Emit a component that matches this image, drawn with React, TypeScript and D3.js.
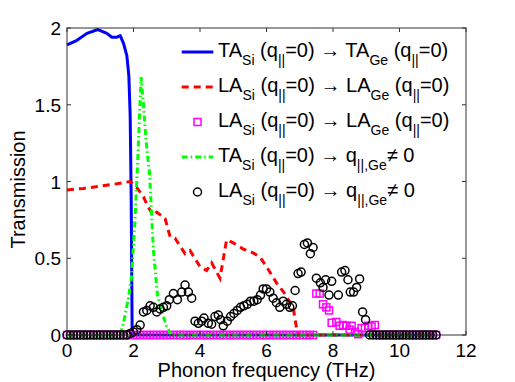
import React from "react";
import * as d3 from "d3";

const xTicks = [0, 2, 4, 6, 8, 10, 12];
const yTicks = [0, 0.5, 1, 1.5, 2];
const yTickLabels = ["0", "0.5", "1", "1.5", "2"];

// TA_Si -> TA_Ge (blue solid)
const taFreq = [0, 0.3, 0.6, 0.93, 1.2, 1.35, 1.5, 1.6, 1.7, 1.8, 1.86, 1.9, 1.93, 1.96, 11.1];
const taVal = [1.89, 1.92, 1.965, 1.99, 1.965, 1.94, 1.94, 1.95, 1.9, 1.82, 1.69, 1.43, 0.9, 0, 0];

// LA_Si -> LA_Ge (red dashed)
const laFreq = [0, 0.5, 1.0, 1.5, 1.9, 2.1, 2.3, 2.45, 2.6, 2.7, 2.95, 3.1, 3.25, 3.55, 3.7, 4.0, 4.2, 4.35, 4.6, 4.8, 5.0, 5.3, 5.55, 5.8, 6.0, 6.3, 6.55, 6.8, 6.9, 6.95, 11.1];
const laVal = [0.945, 0.955, 0.97, 0.985, 1.0, 0.96, 0.9, 0.83, 0.78, 0.8, 0.76, 0.64, 0.63, 0.53, 0.55, 0.445, 0.42, 0.47, 0.37, 0.62, 0.6, 0.56, 0.54, 0.51, 0.445, 0.34, 0.27, 0.18, 0.05, 0, 0];

// LA_Si -> LA_Ge (magenta squares)
const sqFreq = [
  0, 0.1, 0.2, 0.3, 0.4, 0.5, 0.6, 0.7, 0.8, 0.9, 1.0, 1.1, 1.2, 1.3, 1.4, 1.5, 1.6, 1.7, 1.8, 1.9,
  2.0, 2.1, 2.2, 2.3, 2.4, 2.5, 2.6, 2.7, 2.8, 2.9, 3.0, 3.1, 3.2, 3.3, 3.4, 3.5, 3.6, 3.7, 3.8, 3.9,
  4.0, 4.1, 4.2, 4.3, 4.4, 4.5, 4.6, 4.7, 4.8, 4.9, 5.0, 5.1, 5.2, 5.3, 5.4, 5.5, 5.6, 5.7, 5.8, 5.9,
  6.0, 6.1, 6.2, 6.3, 6.4, 6.5, 6.6, 6.7, 6.8, 6.9, 7.0, 7.1, 7.2, 7.3, 7.4,
  7.5, 7.6, 7.7, 7.8, 7.88, 7.96, 8.1, 8.2, 8.3, 8.4, 8.5, 8.56, 8.66, 8.76, 8.86, 8.96, 9.06, 9.16, 9.26,
  9.4, 9.5, 9.6, 9.7, 9.8, 9.9, 10.0, 10.1, 10.2, 10.3, 10.4, 10.5, 10.6, 10.7, 10.8, 10.9, 11.0, 11.1,
];
const sqVal = [
  0, 0, 0, 0, 0, 0, 0, 0, 0, 0, 0, 0, 0, 0, 0, 0, 0, 0, 0, 0,
  0, 0, 0, 0, 0, 0, 0, 0, 0, 0, 0, 0, 0, 0, 0, 0, 0, 0, 0, 0,
  0, 0, 0, 0, 0, 0, 0, 0, 0, 0, 0, 0, 0, 0, 0, 0, 0, 0, 0, 0,
  0, 0, 0, 0, 0, 0, 0, 0, 0, 0, 0, 0, 0, 0, 0,
  0.27, 0.27, 0.2, 0.18, 0.16, 0.08, 0.085, 0.06, 0.065, 0.06, 0.035, 0.06, 0.02, 0.005, 0.045, 0.045, 0.06, 0.055, 0.065,
  0, 0, 0, 0, 0, 0, 0, 0, 0, 0, 0, 0, 0, 0, 0, 0, 0, 0,
];

// TA_Si -> q != 0 (green dash-dot)
const tqFreq = [0, 1.6, 1.7, 1.84, 1.94, 2.05, 2.14, 2.18, 2.23, 2.3, 2.38, 2.48, 2.6, 2.72, 2.87, 3.0, 3.15, 11.1];
const tqVal = [0, 0, 0.08, 0.23, 0.38, 0.77, 1.2, 1.43, 1.68, 1.5, 1.26, 1.06, 0.55, 0.26, 0.14, 0.05, 0, 0];

// LA_Si -> q != 0 (black circles)
const ciFreq = [
  0, 0.1, 0.2, 0.3, 0.4, 0.5, 0.6, 0.7, 0.8, 0.9, 1.0, 1.1, 1.2, 1.3, 1.4, 1.5, 1.6, 1.7, 1.8,
  1.9, 2.0, 2.1, 2.2, 2.3, 2.4, 2.5, 2.6, 2.7, 2.8, 2.9, 3.0, 3.08, 3.2, 3.32, 3.45, 3.55, 3.65, 3.75,
  3.85, 3.95, 4.05, 4.12, 4.25, 4.35, 4.45, 4.55, 4.62, 4.7, 4.82, 4.92, 5.02, 5.12, 5.22, 5.32, 5.42,
  5.52, 5.62, 5.72, 5.82, 5.9, 6.0, 6.1, 6.2, 6.3, 6.4, 6.5, 6.6, 6.7, 6.78, 6.86, 6.95, 7.04, 7.14,
  7.23, 7.32, 7.4, 7.5, 7.62, 7.7, 7.78, 7.88, 7.96, 8.16, 8.26, 8.36, 8.45, 8.52, 8.62, 8.71, 8.8,
  8.89, 8.98,
  9.1, 9.2, 9.3, 9.4, 9.5, 9.6, 9.7, 9.8, 9.9, 10.0, 10.1, 10.2, 10.3, 10.4, 10.5, 10.6, 10.7, 10.8, 10.9, 11.0, 11.1,
];
const ciVal = [
  0, 0, 0, 0, 0, 0, 0, 0, 0, 0, 0, 0, 0, 0, 0, 0, 0, 0, 0,
  0.01, 0.02, 0.035, 0.065, 0.15, 0.16, 0.19, 0.18, 0.15, 0.17, 0.18, 0.19, 0.23, 0.27, 0.23, 0.28, 0.325, 0.28, 0.24,
  0.09, 0.076, 0.09, 0.11, 0.076, 0.07, 0.12, 0.13, 0.1, 0.06, 0.09, 0.12, 0.14, 0.16, 0.18, 0.19, 0.2,
  0.22, 0.22, 0.23, 0.26, 0.3, 0.3, 0.28, 0.24, 0.21, 0.18, 0.22, 0.2, 0.18, 0.19, 0.29, 0.4, 0.41, 0.59,
  0.6, 0.53, 0.57, 0.37, 0.34, 0.31, 0.36, 0.26, 0.35, 0.26, 0.41, 0.42, 0.36, 0.28, 0.28, 0.31, 0.365,
  0.15, 0.1,
  0, 0, 0, 0, 0, 0, 0, 0, 0, 0, 0, 0, 0, 0, 0, 0, 0, 0, 0, 0, 0,
];

type Seg = { t: string; sub?: boolean };
const legendRows: { kind: string; segs: Seg[] }[] = [
  { kind: "blue", segs: [{ t: "TA" }, { t: "Si", sub: true }, { t: " (q" }, { t: "||", sub: true }, { t: "=0) \u2192 TA" }, { t: "Ge", sub: true }, { t: " (q" }, { t: "||", sub: true }, { t: "=0)" }] },
  { kind: "red", segs: [{ t: "LA" }, { t: "Si", sub: true }, { t: " (q" }, { t: "||", sub: true }, { t: "=0) \u2192 LA" }, { t: "Ge", sub: true }, { t: " (q" }, { t: "||", sub: true }, { t: "=0)" }] },
  { kind: "square", segs: [{ t: "LA" }, { t: "Si", sub: true }, { t: " (q" }, { t: "||", sub: true }, { t: "=0) \u2192 LA" }, { t: "Ge", sub: true }, { t: " (q" }, { t: "||", sub: true }, { t: "=0)" }] },
  { kind: "green", segs: [{ t: "TA" }, { t: "Si", sub: true }, { t: " (q" }, { t: "||", sub: true }, { t: "=0) \u2192 q" }, { t: "||,Ge", sub: true }, { t: "\u2260 0" }] },
  { kind: "circle", segs: [{ t: "LA" }, { t: "Si", sub: true }, { t: " (q" }, { t: "||", sub: true }, { t: "=0) \u2192 q" }, { t: "||,Ge", sub: true }, { t: "\u2260 0" }] },
];

const W = 515, H = 382;
const L = 67, R = 466, T = 28, B = 335;
const FONT = "'Liberation Sans', Arial, Helvetica, sans-serif";
const BLUE = "#0000ff", RED = "#ff0000", MAG = "#ff00ff", GREEN = "#00ff00";

export default function App() {
  const x = d3.scaleLinear().domain([0, 12]).range([L, R]);
  const y = d3.scaleLinear().domain([0, 2]).range([B, T]);
  const line = d3.line<[number, number]>().x((d) => x(d[0])).y((d) => y(d[1]));
  const zip = (a: number[], b: number[]) => a.map((v, i) => [v, b[i]] as [number, number]);
  const axisColor = "#333";
  const tl = 4;

  const legX0 = 181.7, legX1 = 213.3, legText = 218;
  const rowBase = [57, 92, 127, 162, 197];

  const renderText = (segs: Seg[], bx: number, by: number) => {
    let cur = 0;
    return (
      <text x={bx} y={by} fontFamily={FONT} fontSize={20} fill="#000">
        {segs.map((s, i) => {
          const target = s.sub ? 8 : 0;
          const dy = target - cur;
          cur = target;
          return (
            <tspan key={i} dy={dy} fontSize={s.sub ? 14 : 20}>
              {s.t}
            </tspan>
          );
        })}
      </text>
    );
  };

  return (
    <svg width={W} height={H} style={{ position: "absolute", left: 0, top: 0, background: "#fff" }}>
      <rect x={0} y={0} width={W} height={H} fill="#fff" />
      {/* series */}
      <path d={line(zip(taFreq, taVal)) || ""} fill="none" stroke={BLUE} strokeWidth={3} strokeLinejoin="round" />
      <path d={line(zip(laFreq, laVal)) || ""} fill="none" stroke={RED} strokeWidth={3} strokeDasharray="7,5" />
      {sqFreq.map((f, i) => (
        <rect key={"s" + i} x={x(f) - 3.5} y={y(sqVal[i]) - 3.5} width={7} height={7} fill="none" stroke={MAG} strokeWidth={1.5} />
      ))}
      <path d={line(zip(tqFreq, tqVal)) || ""} fill="none" stroke={GREEN} strokeWidth={3} strokeDasharray="6,3,1.5,3" />
      {ciFreq.map((f, i) => (
        <circle key={"c" + i} cx={x(f)} cy={y(ciVal[i])} r={4} fill="none" stroke="#000" strokeWidth={1.5} />
      ))}

      {/* axes box */}
      <rect x={L} y={T} width={R - L} height={B - T} fill="none" stroke={axisColor} strokeWidth={1} />
      {xTicks.map((t) => (
        <g key={"xt" + t}>
          <line x1={x(t)} x2={x(t)} y1={B} y2={B - tl} stroke={axisColor} />
          <line x1={x(t)} x2={x(t)} y1={T} y2={T + tl} stroke={axisColor} />
          <text x={x(t)} y={357} textAnchor="middle" fontFamily={FONT} fontSize={19} fill="#000">
            {t}
          </text>
        </g>
      ))}
      {yTicks.map((t, i) => (
        <g key={"yt" + t}>
          <line x1={L} x2={L + tl} y1={y(t)} y2={y(t)} stroke={axisColor} />
          <line x1={R} x2={R - tl} y1={y(t)} y2={y(t)} stroke={axisColor} />
          <text x={61} y={y(t) + 7} textAnchor="end" fontFamily={FONT} fontSize={19} fill="#000">
            {yTickLabels[i]}
          </text>
        </g>
      ))}
      <text x={(L + R) / 2} y={377} textAnchor="middle" fontFamily={FONT} fontSize={20} fill="#000">
        Phonon frequency (THz)
      </text>
      <text transform={`translate(25, ${(T + B) / 2 + 8}) rotate(-90)`} textAnchor="middle" fontFamily={FONT} fontSize={20} fill="#000">
        Transmission
      </text>

      {/* legend */}
      {legendRows.map((row, i) => {
        const by = rowBase[i];
        const ly = by - 5;
        const mx = (legX0 + legX1) / 2;
        let sample: React.ReactNode = null;
        if (row.kind === "blue") sample = <line x1={legX0} x2={legX1} y1={ly} y2={ly} stroke={BLUE} strokeWidth={3} />;
        if (row.kind === "red") sample = <line x1={legX0} x2={legX1} y1={ly} y2={ly} stroke={RED} strokeWidth={3} strokeDasharray="7,5" />;
        if (row.kind === "green") sample = <line x1={legX0} x2={legX1} y1={ly} y2={ly} stroke={GREEN} strokeWidth={3} strokeDasharray="6,3,1.5,3" />;
        if (row.kind === "square") sample = <rect x={mx - 3.5} y={ly - 3.5} width={7} height={7} fill="none" stroke={MAG} strokeWidth={1.5} />;
        if (row.kind === "circle") sample = <circle cx={mx} cy={ly} r={4} fill="none" stroke="#000" strokeWidth={1.5} />;
        return (
          <g key={"lg" + i}>
            {sample}
            {renderText(row.segs, legText, by)}
          </g>
        );
      })}
    </svg>
  );
}
